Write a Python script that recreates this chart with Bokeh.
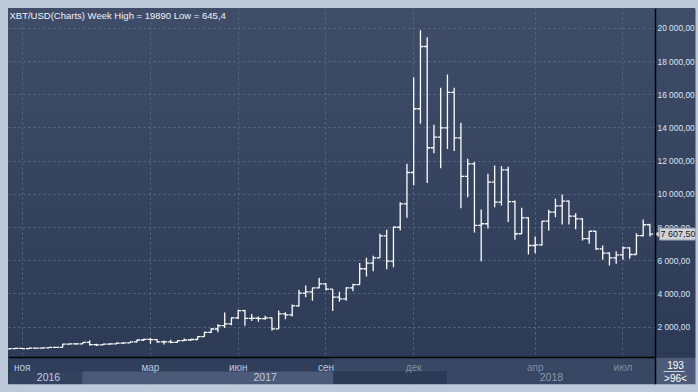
import numpy as np
from bokeh.plotting import figure
from bokeh.models import (FixedTicker, LinearAxis, Range1d, Label, ColumnDataSource,
                          Grid, InlineStyleSheet, GlobalInlineStyleSheet)
from bokeh.transform import dodge
from bokeh.embed import file_html
from bokeh.resources import INLINE

# ---------------- data (weekly OHLC) ----------------
bar_index = list(range(96))
opens = [700, 705, 720, 715, 740, 735, 750, 780, 790, 980,
         1000, 1000, 1090, 950, 930, 980, 1000, 1040, 1060, 1110,
         1230, 1270, 1250, 1110, 1120, 1080, 1190, 1230, 1260, 1430,
         1690, 1890, 2100, 2200, 2560, 3000, 2530, 2540, 2520, 2560,
         1900, 2800, 2740, 3290, 4050, 4130, 4370, 4610, 4290, 3810,
         3700, 4370, 4570, 5520, 5860, 6180, 7500, 5980, 8020, 9430,
         11320, 15160, 18910, 12810, 13450, 14010, 16140, 13410, 11080, 11840,
         8130, 8230, 10740, 9530, 11480, 9570, 7630, 8590, 6920, 6960,
         8390, 8930, 9310, 9590, 8690, 8530, 7330, 7780, 6720, 6460,
         6180, 6360, 6780, 6380, 7520, 8170]
highs = [720, 760, 745, 760, 750, 770, 790, 800, 1000, 1010,
         1040, 1100, 1220, 1000, 1000, 1030, 1080, 1090, 1130, 1240,
         1300, 1350, 1260, 1200, 1240, 1200, 1320, 1300, 1450, 1720,
         1930, 2170, 2880, 2600, 3050, 3050, 2800, 2650, 2690, 2580,
         3000, 2900, 3370, 4250, 4510, 4380, 4980, 4650, 4290, 4130,
         4400, 4610, 5860, 6180, 6300, 7630, 7870, 8070, 9530, 11840,
         17060, 19890, 19470, 14190, 16420, 17220, 16420, 14310, 12150, 11950,
         9090, 11240, 11740, 11700, 11660, 9630, 9190, 8630, 7460, 8400,
         9070, 9740, 9990, 9630, 8870, 8570, 7790, 7790, 6920, 6520,
         6580, 6860, 6820, 7660, 8490, 8230]
lows = [645, 690, 700, 700, 715, 725, 745, 760, 785, 960,
        960, 990, 900, 860, 920, 960, 990, 1010, 1050, 1100,
        1170, 1000, 1060, 960, 1040, 1070, 1170, 1200, 1250, 1420,
        1650, 1700, 1950, 2120, 2500, 2080, 2370, 2330, 2450, 1800,
        1900, 2480, 2650, 3250, 3810, 3600, 4350, 4210, 2970, 3530,
        3600, 4170, 4570, 5050, 5370, 6180, 5490, 5610, 7830, 8590,
        10550, 14250, 10680, 12480, 11580, 12730, 12610, 9170, 9830, 7700,
        5980, 7950, 9230, 9330, 8330, 7270, 7630, 6380, 6460, 6900,
        7830, 8630, 8190, 8190, 7900, 7220, 7020, 6660, 6060, 5720,
        5820, 6060, 6120, 6380, 7460, 7460]
closes = [705, 720, 715, 740, 735, 750, 780, 790, 980, 1000,
          1000, 1090, 950, 930, 980, 1000, 1040, 1060, 1110, 1230,
          1270, 1250, 1110, 1120, 1080, 1190, 1230, 1260, 1430, 1690,
          1890, 2100, 2200, 2560, 3000, 2530, 2540, 2520, 2560, 1900,
          2800, 2740, 3290, 4050, 4130, 4370, 4610, 4290, 3810, 3700,
          4370, 4570, 5520, 5860, 6180, 7500, 5980, 8020, 9430, 11320,
          15160, 18910, 12810, 13450, 14010, 16140, 13410, 11080, 11840, 8130,
          8230, 10740, 9530, 11480, 9570, 7630, 8590, 6920, 6960, 8390,
          8930, 9310, 9590, 8690, 8530, 7330, 7780, 6720, 6460, 6180,
          6360, 6780, 6380, 7520, 8170, 7607.5]

month_ticks_a = [2, 21, 34, 47]
month_labels_a = ["ноя", "мар", "июн", "сен"]
month_ticks_b = [60, 78, 91]
month_labels_b = ["дек", "апр", "июл"]
year_ticks_a = [5.9, 38.0]
year_labels_a = ["2016", "2017"]
year_ticks_b = [80.4]
year_labels_b = ["2018"]
price_ticks = [2000, 4000, 6000, 8000, 10000, 12000, 14000, 16000, 18000, 20000]
price_labels = ["2 000,00", "4 000,00", "6 000,00", "8 000,00", "10 000,00",
                "12 000,00", "14 000,00", "16 000,00", "18 000,00", "20 000,00"]
last_price = 7607.5
last_price_label = "7 607,50"
title_text = "XBT/USD(Charts) Week High = 19890 Low = 645,4"
bars_total = "193"
bars_visible = ">96<"

# layout of the chart window (bar positions / price levels)
X_START, X_AXIS, X_END = -0.03, 95.82, 101.75    # left edge, price-axis line, right edge
Y_TOP, Y_BOTTOM = 21198, -1452                    # top edge, bottom edge
PRICE_FLOOR, ROW_SPLIT = 157, -669                # bottom of price area, month/year split

# time-scale strip cells
strip_left = [X_START - 1, 48.1, X_START - 1, 10.9, 48.1, 64.9, X_AXIS]
strip_right = [48.1, X_AXIS, 10.9, 48.1, 64.9, X_AXIS, X_END + 1]
strip_top = [PRICE_FLOOR, PRICE_FLOOR, ROW_SPLIT, ROW_SPLIT, ROW_SPLIT, ROW_SPLIT, PRICE_FLOOR]
strip_bottom = [ROW_SPLIT, ROW_SPLIT, Y_BOTTOM, Y_BOTTOM, Y_BOTTOM, Y_BOTTOM, Y_BOTTOM]
strip_color = ["#2f3e5b", "#384764", "#33425f", "#4a5a78", "#2c3a56", "#384764", "#4b5b79"]

FONT = "Liberation Sans"
FRAME = "#bdc8d8"
GRAD = [(0.0, (0x3f, 0x4d, 0x69)), (0.5, (0x35, 0x43, 0x5f)), (1.0, (0x2b, 0x39, 0x55))]
W, H, M = 698, 392, 8

src = ColumnDataSource(dict(x=bar_index, o=opens, h=highs, l=lows, c=closes))

p = figure(width=W, height=H, output_backend="svg", toolbar_location=None,
           x_range=Range1d(X_START, X_END), y_range=Range1d(Y_BOTTOM, Y_TOP),
           y_axis_location=None, x_axis_location=None,
           min_border_left=M, min_border_top=M, min_border_right=3, min_border_bottom=M)
p.background_fill_alpha = 0
p.border_fill_alpha = 0
p.outline_line_color = None

def solid(c, x, y, w, h):
    return f"linear-gradient({c},{c}) {x}px {y}px / {w}px {h}px no-repeat"

grad_css = "linear-gradient(180deg, " + ", ".join(
    "rgb(%d,%d,%d) %d%%" % (*c, int(f * 100)) for f, c in GRAD) + ")"
layers = [solid(FRAME, 0, 0, W, M), solid(FRAME, 0, H - M, W, M),
          solid(FRAME, 0, 0, M, H), solid(FRAME, W - 3, 0, 3, H), grad_css]
p.stylesheets = [
    InlineStyleSheet(css=":host { background: " + ", ".join(layers) + "; }"),
    GlobalInlineStyleSheet(css="html, body { background: %s; }" % FRAME),
]

# grids
p.xgrid.visible = False
p.ygrid.visible = False
for dim, ticks in ((0, month_ticks_a + month_ticks_b), (1, price_ticks)):
    p.add_layout(Grid(dimension=dim, ticker=FixedTicker(ticks=ticks),
                      grid_line_color="#5b6984", grid_line_dash="2 3", grid_line_width=1))

# price-axis column background (same gradient as the window, hides the grid there)
rows = 188
vals = np.linspace(PRICE_FLOOR, Y_TOP, rows)
canvas_y = M + (Y_TOP - vals) / (Y_TOP - Y_BOTTOM) * (H - 2 * M)
frac = canvas_y / H
img = np.zeros((rows, 1, 4), dtype=np.uint8)
for k in range(3):
    img[:, 0, k] = np.interp(frac, [g[0] for g in GRAD], [g[1][k] for g in GRAD])
img[:, 0, 3] = 255
p.image_rgba(image=[img.view(np.uint32).reshape(rows, 1)], x=X_AXIS, y=PRICE_FLOOR,
             dw=X_END - X_AXIS + 1, dh=Y_TOP - PRICE_FLOOR, level="glyph")

# time strip cells
p.quad(left=strip_left, right=strip_right, top=strip_top, bottom=strip_bottom,
       color=strip_color, line_color=None)
p.segment(x0=[X_AXIS + 1.2], x1=[X_END - 1.6], y0=[ROW_SPLIT], y1=[ROW_SPLIT],
          line_color="#c9d2df", line_width=1)

def styled(axis, color, size, standoff, line=None):
    axis.axis_line_color = line
    axis.axis_line_width = 1.5
    axis.major_tick_line_color = None
    axis.minor_tick_line_color = None
    axis.major_tick_out = 0
    axis.major_tick_in = 0
    axis.major_label_text_color = color
    axis.major_label_text_font = FONT
    axis.major_label_text_font_size = size
    axis.major_label_standoff = standoff
    return axis

# price axis (right)
ya = LinearAxis(fixed_location=X_AXIS, ticker=FixedTicker(ticks=price_ticks),
                major_label_overrides={t: s for t, s in zip(price_ticks, price_labels)})
p.add_layout(styled(ya, "#dce6f4", "8.4px", 2, "black"), "right")

# month labels (brighter / dimmer groups), year labels
for ticks, labels, color, loc, size, so, line in [
        (month_ticks_a, month_labels_a, "#bccae0", PRICE_FLOOR, "10px", 4, "black"),
        (month_ticks_b, month_labels_b, "#7f8da5", PRICE_FLOOR, "10px", 4, None),
        (year_ticks_a, year_labels_a, "#c0cce0", ROW_SPLIT, "10.5px", 1, None),
        (year_ticks_b, year_labels_b, "#8c99b0", ROW_SPLIT, "10.5px", 1, None)]:
    ax = LinearAxis(fixed_location=loc, ticker=FixedTicker(ticks=ticks),
                    major_label_overrides={t: s for t, s in zip(ticks, labels)},
                    bounds=(X_START, X_AXIS))
    p.add_layout(styled(ax, color, size, so, line), "below")

# OHLC bars
p.segment(x0="x", y0="l", x1="x", y1="h", source=src, line_color="white", line_width=1.3)
p.segment(x0=dodge("x", -0.45), y0="o", x1="x", y1="o", source=src, line_color="white", line_width=1.3)
p.segment(x0="x", y0="c", x1=dodge("x", 0.45), y1="c", source=src, line_color="white", line_width=1.3)

# last price tag
p.scatter(x=[X_AXIS + 0.5], y=[last_price], marker="triangle", angle=np.pi / 2,
          size=8, fill_color="#cfd3da", line_color="#8e96a3", line_width=0.8)
p.add_layout(Label(x=X_AXIS, y=last_price, x_offset=4, text=last_price_label,
                   text_color="#151515", text_font=FONT, text_font_size="9px",
                   text_baseline="middle", background_fill_color="#cfd3da",
                   border_line_color="#8e96a3", padding=1))

# bar counters
for yv, txt in (((PRICE_FLOOR + ROW_SPLIT) / 2, bars_total), ((ROW_SPLIT + Y_BOTTOM) / 2, bars_visible)):
    p.add_layout(Label(x=(X_AXIS + X_END) / 2, y=yv, text=txt, text_color="#ffffff",
                       text_font=FONT, text_font_size="10px", text_align="center",
                       text_baseline="middle"))

# title
p.add_layout(Label(x=9, y=15, x_units="canvas", y_units="canvas", text=title_text,
                   text_color="#eef2f8", text_font=FONT, text_font_size="9.5px",
                   text_baseline="middle"))

open("out.html", "w").write(file_html(p, INLINE))
